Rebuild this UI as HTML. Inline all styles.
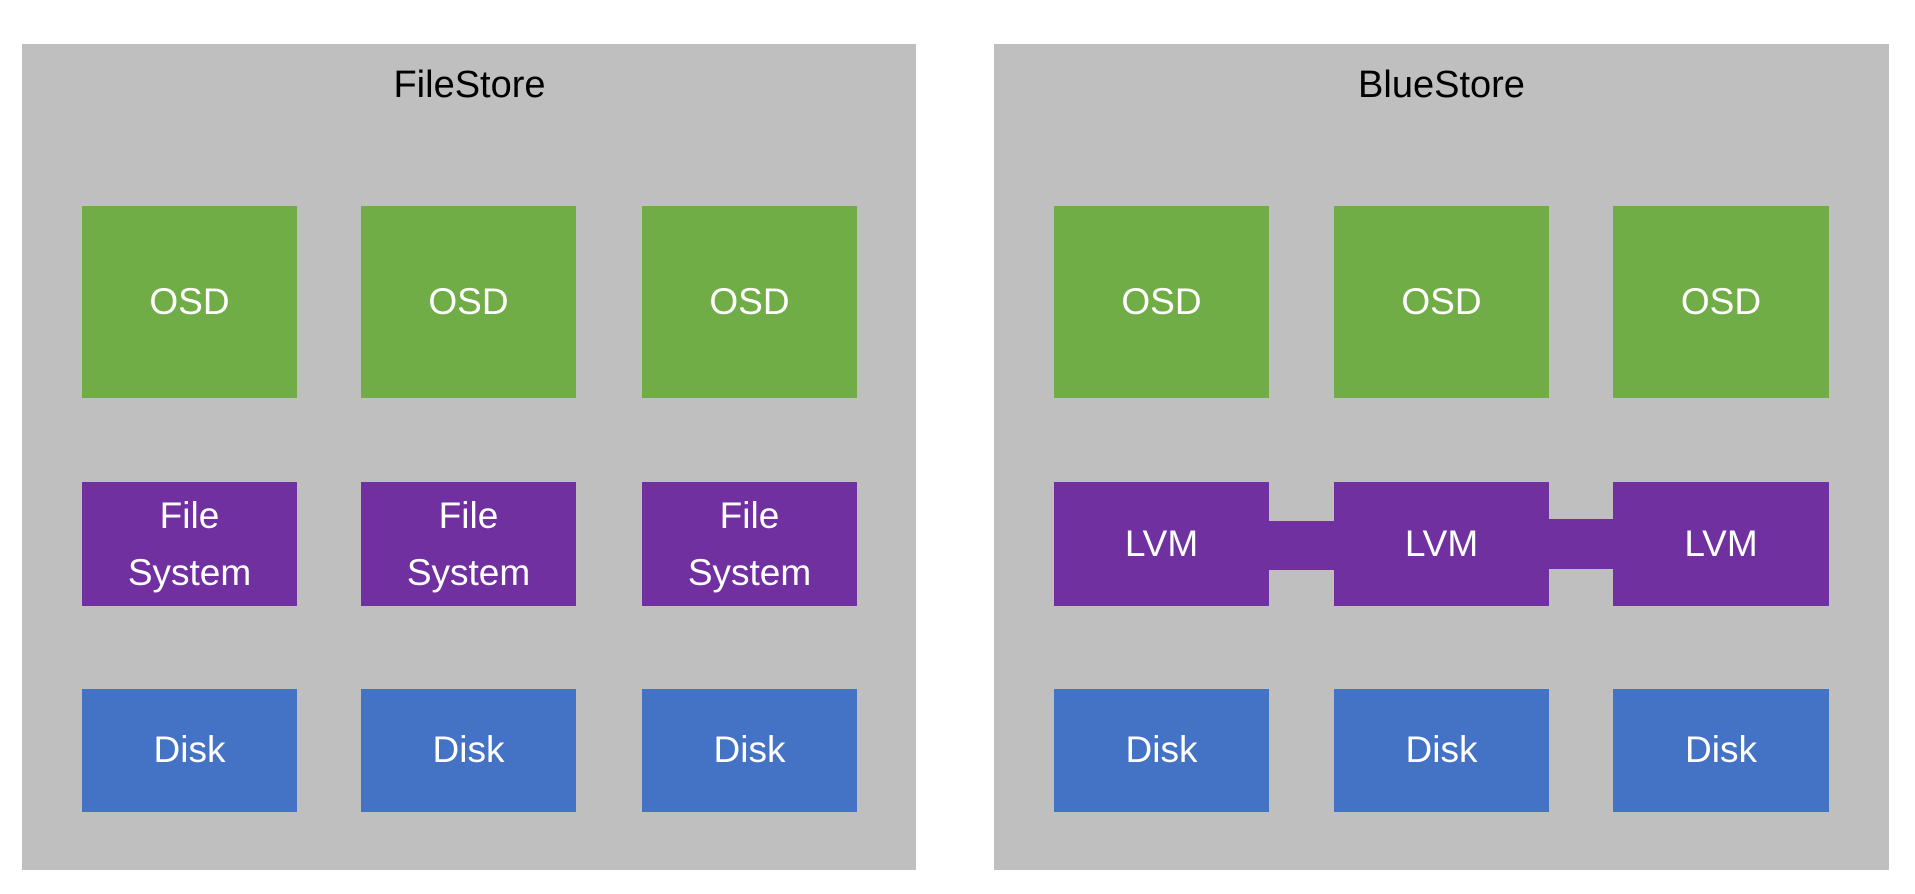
<!DOCTYPE html>
<html><head><meta charset="utf-8"><style>
body{margin:0;width:1915px;height:894px;background:#fff;position:relative;overflow:hidden;font-family:"Liberation Sans","DejaVu Sans",sans-serif}
.p{position:absolute;background:#bfbfbf;top:44px;height:826px}
.t{position:absolute;top:64px;font-size:38px;color:#000;text-align:center;width:895px}
.b{position:absolute;width:215px;display:flex;align-items:center;justify-content:center;text-align:center;color:#fff;font-size:37px;line-height:1.2}
.o{background:#70ad47;top:206px;height:192px}
.f{background:#7030a0;top:482px;height:124px}
.fs{line-height:57px}
.d{background:#4472c4;top:689px;height:123px}
.c{position:absolute;background:#7030a0}
</style></head><body>
<div class="p" style="left:22px;width:894px"></div>
<div class="p" style="left:994px;width:895px"></div>
<div class="t" style="left:22px">FileStore</div>
<div class="t" style="left:994px">BlueStore</div>

<div class="b o" style="left:82px">OSD</div>
<div class="b o" style="left:361px">OSD</div>
<div class="b o" style="left:642px">OSD</div>
<div class="b f fs" style="left:82px">File<br>System</div>
<div class="b f fs" style="left:361px">File<br>System</div>
<div class="b f fs" style="left:642px">File<br>System</div>
<div class="b d" style="left:82px">Disk</div>
<div class="b d" style="left:361px">Disk</div>
<div class="b d" style="left:642px">Disk</div>

<div class="c" style="left:1269px;width:65px;top:521px;height:49px"></div>
<div class="c" style="left:1549px;width:64px;top:519px;height:50px"></div>
<div class="b o" style="left:1054px">OSD</div>
<div class="b o" style="left:1334px">OSD</div>
<div class="b o" style="left:1613px;width:216px">OSD</div>
<div class="b f" style="left:1054px">LVM</div>
<div class="b f" style="left:1334px">LVM</div>
<div class="b f" style="left:1613px;width:216px">LVM</div>
<div class="b d" style="left:1054px">Disk</div>
<div class="b d" style="left:1334px">Disk</div>
<div class="b d" style="left:1613px;width:216px">Disk</div>
</body></html>
